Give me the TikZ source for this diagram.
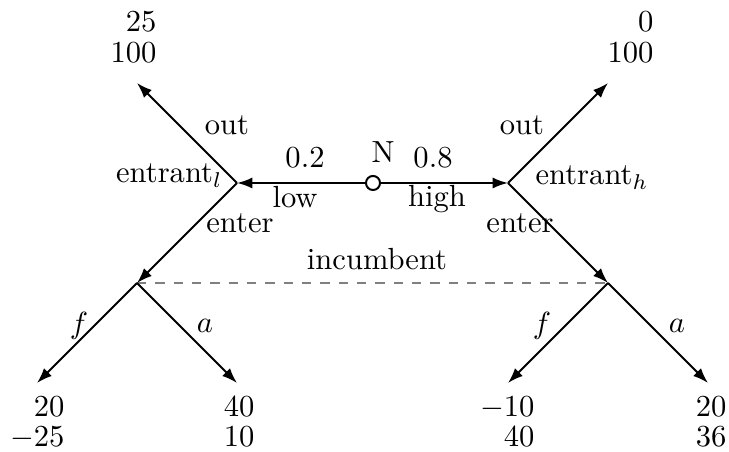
\documentclass[tikz,border=0pt]{standalone}
\usepackage{amsmath,amssymb}
\usepackage{tikz}
\usetikzlibrary{arrows.meta}

\tikzset{
	arr/.style={line width=0.65pt, -{Latex[length=5pt,width=3.6pt]}},
	chance/.style={circle, draw, line width=0.65pt, fill=white, inner sep=0pt, minimum size=4.6pt},
	lbl/.style={inner sep=0pt},
	payoff/.style={inner sep=0pt, align=right}
}

\begin{document}
\begin{tikzpicture}[x=1.15cm, y=1.15cm]
	\useasboundingbox (0,0) rectangle (7.29,4.52);
	\coordinate (L) at (2.37,2.69);
	\coordinate (H) at (5.08,2.69);
	\coordinate (Lout) at (1.37,3.69);
	\coordinate (Hout) at (6.08,3.69);
	\coordinate (IL) at (1.37,1.69);
	\coordinate (IH) at (6.08,1.69);
	\coordinate (LF) at (0.37,0.69);
	\coordinate (LA) at (2.37,0.69);
	\coordinate (HF) at (5.08,0.69);
	\coordinate (HA) at (7.08,0.69);
	\node[chance] (N) at (3.73,2.69) {};
	
	\draw[dashed, gray, line width=0.45pt] (IL) -- (IH);
	\draw[arr] (N) -- (L);
	\draw[arr] (N) -- (H);
	\draw[arr] (L) -- (Lout);
	\draw[arr] (L) -- (IL);
	\draw[arr] (H) -- (Hout);
	\draw[arr] (H) -- (IH);
	\draw[arr] (IL) -- (LF);
	\draw[arr] (IL) -- (LA);
	\draw[arr] (IH) -- (HF);
	\draw[arr] (IH) -- (HA);
	
	\node[lbl, anchor=base] (Nlbl) at (3.83,2.89) {N};
	\node[lbl, anchor=base] (plow) at (3.05,2.84) {$0.2$};
	\node[lbl, anchor=base] (phigh) at (4.33,2.84) {$0.8$};
	\node[lbl, anchor=base] (low) at (2.95,2.44) {low};
	\node[lbl, anchor=base] (high) at (4.37,2.45) {high};
	\node[lbl, anchor=base east] (entl) at (2.23,2.69) {entrant$_l$};
	\node[lbl, anchor=base west] (enth) at (5.35,2.67) {entrant$_h$};
	\node[lbl, anchor=base] (outl) at (2.27,3.17) {out};
	\node[lbl, anchor=base] (outh) at (5.22,3.17) {out};
	\node[lbl, anchor=base] (enterl) at (2.40,2.19) {enter};
	\node[lbl, anchor=base] (enterh) at (5.20,2.19) {enter};
	\node[lbl, anchor=base] (inc) at (3.77,1.82) {incumbent};
	\node[lbl] (fl) at (0.79,1.26) {$f$};
	\node[lbl] (al) at (2.05,1.26) {$a$};
	\node[lbl] (fh) at (5.42,1.26) {$f$};
	\node[lbl] (ah) at (6.77,1.26) {$a$};
	
	\node[payoff, anchor=south east] (pLout) at (1.57,3.89) {$25$\\[-2pt]$100$};
	\node[payoff, anchor=south east] (pHout) at (6.54,3.89) {$0$\\[-2pt]$100$};
	\node[payoff, anchor=north east] (pLF) at (0.65,0.56) {$20$\\[-2pt]$-25$};
	\node[payoff, anchor=north east] (pLA) at (2.55,0.56) {$40$\\[-2pt]$10$};
	\node[payoff, anchor=north east] (pHF) at (5.35,0.56) {$-10$\\[-2pt]$40$};
	\node[payoff, anchor=north east] (pHA) at (7.27,0.56) {$20$\\[-2pt]$36$};
\end{tikzpicture}
\end{document}
